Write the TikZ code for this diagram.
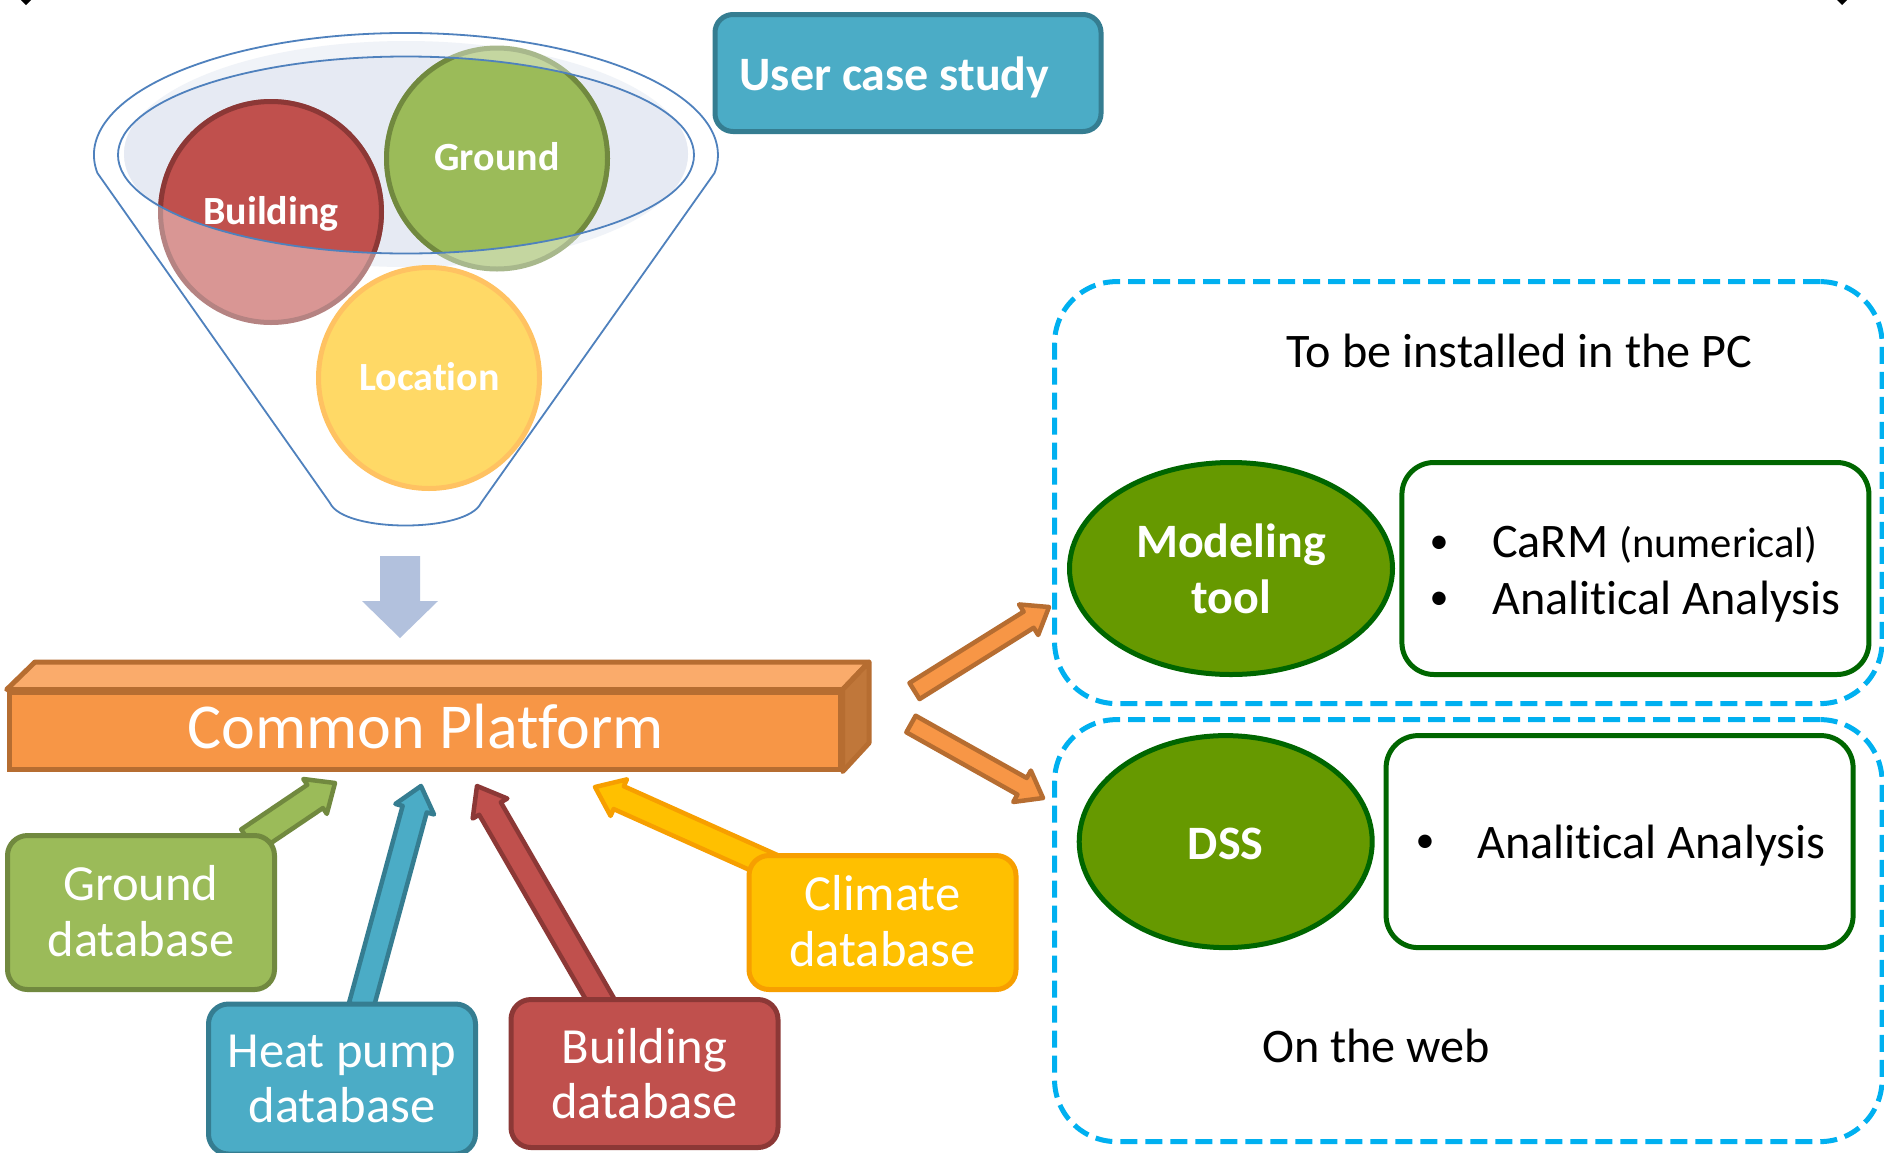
\documentclass[tikz,border=0pt]{standalone}
\usepackage{fontspec}
\setmainfont{Carlito}[Ligatures=CommonOff]
\usetikzlibrary{calc,shapes.geometric}
\pgfdeclarelayer{behind}
\pgfsetlayers{behind,main}
\definecolor{grnF}{HTML}{9BBB59}\definecolor{grnD}{HTML}{71893F}
\definecolor{grnFf}{HTML}{C4D6A0}\definecolor{grnDf}{HTML}{A8B88C}
\definecolor{redF}{HTML}{C0504D}\definecolor{redD}{HTML}{8C3836}
\definecolor{redFf}{HTML}{D99694}\definecolor{redDf}{HTML}{B58382}
\definecolor{bluF}{HTML}{4BACC6}\definecolor{bluD}{HTML}{357D91}
\definecolor{ylwF}{HTML}{FFC000}\definecolor{ylwD}{HTML}{F79F00}
\definecolor{orF}{HTML}{F79646}\definecolor{orD}{HTML}{B66D31}
\definecolor{orT}{HTML}{FAAB6B}\definecolor{orS}{HTML}{C0773A}
\definecolor{locF}{HTML}{FFD966}\definecolor{locD}{HTML}{FFC262}
\definecolor{funL}{HTML}{4F81BD}\definecolor{funA}{HTML}{E6EAF3}\definecolor{funB}{HTML}{F0F3F8}
\definecolor{dash}{HTML}{00B0F0}\definecolor{tool}{HTML}{669900}\definecolor{toolD}{HTML}{006600}
\definecolor{downA}{HTML}{B2C1DD}
\tikzset{
  dbbox/.style={draw,line width=5pt,rounded corners=20pt,text=white,align=center,inner sep=0pt,font=\fontsize{50.6}{55.5}\selectfont},
  ball/.style={circle,draw,line width=5pt,inner sep=0pt,minimum size=221pt},
  balltext/.style={anchor=base,text=white,inner sep=0pt,font=\fontsize{40}{44}\selectfont\bfseries},
  dashbox/.style={draw=dash,line width=5pt,dash pattern=on 17pt off 8pt,rounded corners=62pt,inner sep=0pt},
  toolell/.style={ellipse,draw=toolD,fill=tool,line width=5pt,inner sep=0pt,text=white,align=center,font=\fontsize{48}{56}\selectfont\bfseries},
  listbox/.style={draw=toolD,line width=5pt,rounded corners=32pt,inner sep=0pt},
  plain/.style={anchor=base west,inner sep=0pt,font=\fontsize{48.2}{56}\selectfont},
  bulletmark/.style={anchor=base,inner sep=0pt,font=\fontsize{38}{40}\selectfont},
  fatarrow/.style={line width=4.5pt,line join=round}
}
% tail, tip, half shaft, half head, head length, draw colour, fill colour
\newcommand{\fatarr}[7]{%
  \coordinate (hb) at ($(#2)!#5pt!(#1)$);
  \draw[fatarrow,draw=#6,fill=#7]
    ($(#1)!#3pt!90:(#2)$) -- ($(hb)!#3pt!90:(#2)$) -- ($(hb)!#4pt!90:(#2)$) -- (#2)
    -- ($(hb)!#4pt!-90:(#2)$) -- ($(hb)!#3pt!-90:(#2)$) -- ($(#1)!#3pt!-90:(#2)$) -- cycle;
}
\begin{document}
\begin{tikzpicture}[x=1pt,y=-1pt]
\useasboundingbox (0,0) rectangle (1884,1152);
\begin{pgfonlayer}{behind}
\fill[white] (0,0) rectangle (1884,1152);
\end{pgfonlayer}
% corner marks
\fill[black] (21,0) -- (31,0) -- (26,5) -- cycle;
\fill[black] (1837,0) -- (1847,0) -- (1842,5) -- cycle;
% funnel
\fill[funB] (406,154) ellipse [x radius=282,y radius=113];
\begin{scope}
  \clip (406,155) ellipse [x radius=288,y radius=98.5];
  \fill[funA] (406,154) ellipse [x radius=282,y radius=113];
\end{scope}
\node[ball,draw=redDf,fill=redFf] (bld) at (271,212) {};
\node[ball,draw=grnDf,fill=grnFf] (grd) at (497,158.5) {};
\begin{scope}
  \clip (406,155) ellipse [x radius=288,y radius=98.5];
  \draw[line width=5pt,draw=redD,fill=redF] (271,212) circle [radius=110.5];
  \draw[line width=5pt,draw=grnD,fill=grnF] (497,158.5) circle [radius=110.5];
\end{scope}
\draw[funL,line width=1.8pt,line join=round] (97.4,173) arc[start angle=171.5,end angle=368.5,x radius=312,y radius=122]
  -- (481,503) .. controls (467,533) and (344,533) .. (330,503) -- cycle;
\draw[funL,line width=1.8pt] (406,155) ellipse [x radius=288,y radius=98.5];
\node[ball,draw=locD,fill=locF] (loc) at (429,378) {};
\node[balltext] (tbld) at (271,224) {Building};
\node[balltext] (tgrd) at (497,170.5) {Ground};
\node[balltext] (tloc) at (429.5,390.5) {Location};
% user case study
\node[draw=bluD,fill=bluF,line width=5pt,rounded corners=18pt,minimum width=386pt,minimum height=117pt,inner sep=0pt,text=white,font=\fontsize{48}{52}\selectfont\bfseries] (ucs) at (908,73) {\rule{0pt}{43pt}User case study\hspace*{27pt}};
% platform
\node[draw=orD,fill=orF,line width=5pt,minimum width=831pt,minimum height=77pt,inner sep=0pt,text=white,font=\fontsize{64}{70}\selectfont] (cp) at (424.7,730.5) {\hspace*{2pt}Common Platform\rule[-8pt]{0pt}{1pt}};
\draw[orD,fill=orT,line width=5pt,line join=round] (cp.north west) -- (35,662) -- (869,662) -- (cp.north east) -- cycle;
\draw[orD,fill=orS,line width=5pt,line join=round] (cp.north east) -- (869,662) -- (869,743) -- (cp.south east) -- cycle;
% databases
\node[dbbox,draw=grnD,fill=grnF,minimum width=267pt,minimum height=154pt] (gdb) at (141,912.5) {Ground\\database\rule[-3pt]{0pt}{1pt}};
\node[dbbox,draw=bluD,fill=bluF,minimum width=267pt,minimum height=150pt] (hdb) at (342,1079) {Heat pump\\database};
\node[dbbox,draw=redD,fill=redF,minimum width=267pt,minimum height=148pt] (bdb) at (644.5,1073.5) {Building\\database};
\node[dbbox,draw=ylwD,fill=ylwF,minimum width=267pt,minimum height=134pt] (cdb) at (882.5,922.5) {Climate\\database\rule[-3pt]{0pt}{1pt}};
% right side
\node[dashbox,minimum width=827.5pt,minimum height=422pt] (pcbox) at (1468.3,492.6) {};
\node[dashbox,minimum width=827.5pt,minimum height=422pt] (webbox) at (1468.3,930.6) {};
\node[toolell,minimum width=323pt,minimum height=212pt] (mod) at (1231,568.5) {Modeling\\tool};
\node[listbox,minimum width=467pt,minimum height=212pt] (lst1) at (1635.4,568.5) {};
\node[toolell,minimum width=293pt,minimum height=212pt] (dss) at (1225.7,841.6) {\rule{0pt}{36pt}DSS};
\node[listbox,minimum width=467pt,minimum height=212pt] (lst2) at (1619.6,841.6) {};
\node[plain] (t1) at (1286.5,367) {To be installed in the PC};
\node[plain] (t2) at (1262,1062) {On the web};
\node[bulletmark] (b1) at (1439,553) {•};
\node[plain] (l1) at (1492,557) {CaRM {\fontsize{42.6}{48}\selectfont (numerical)}};
\node[bulletmark] (b2) at (1439,609) {•};
\node[plain] (l2) at (1492,614) {Analitical Analysis};
\node[bulletmark] (b3) at (1425,852) {•};
\node[plain] (l3) at (1477,858) {Analitical Analysis};
% arrows behind boxes
\coordinate (tipG) at (335,783);
\coordinate (tailG) at ($(gdb.north)+(108,8)$);
\coordinate (tipH) at (421,786);
\coordinate (tailH) at ($(hdb.north)+(19,5)$);
\coordinate (tipB) at (477,786);
\coordinate (tailB) at ($(bdb.north)+(-37,15)$);
\coordinate (tipC) at (595,787);
\coordinate (tailC) at ($(cdb.north)+(-100,18)$);
\coordinate (tipU) at (1049,607);
\coordinate (tailU) at (914.5,691);
\coordinate (tipD) at (1043,798);
\coordinate (tailD) at (911,724);
\begin{pgfonlayer}{behind}
\fatarr{tailG}{tipG}{14}{21}{24}{grnD}{grnF}
\fatarr{tailH}{tipH}{12.5}{20}{24}{bluD}{bluF}
\fatarr{tailB}{tipB}{12.5}{20}{26}{redD}{redF}
\fatarr{tailC}{tipC}{12.5}{20}{26}{ylwD}{ylwF}
\fatarr{tailU}{tipU}{9.5}{18}{24}{orD}{orF}
\fatarr{tailD}{tipD}{9.5}{18}{24}{orD}{orF}
\end{pgfonlayer}
\fill[downA] (380,556) -- (420,556) -- (420,601) -- (438,601) -- (400,638) -- (362,601) -- (380,601) -- cycle;
\end{tikzpicture}
\end{document}
